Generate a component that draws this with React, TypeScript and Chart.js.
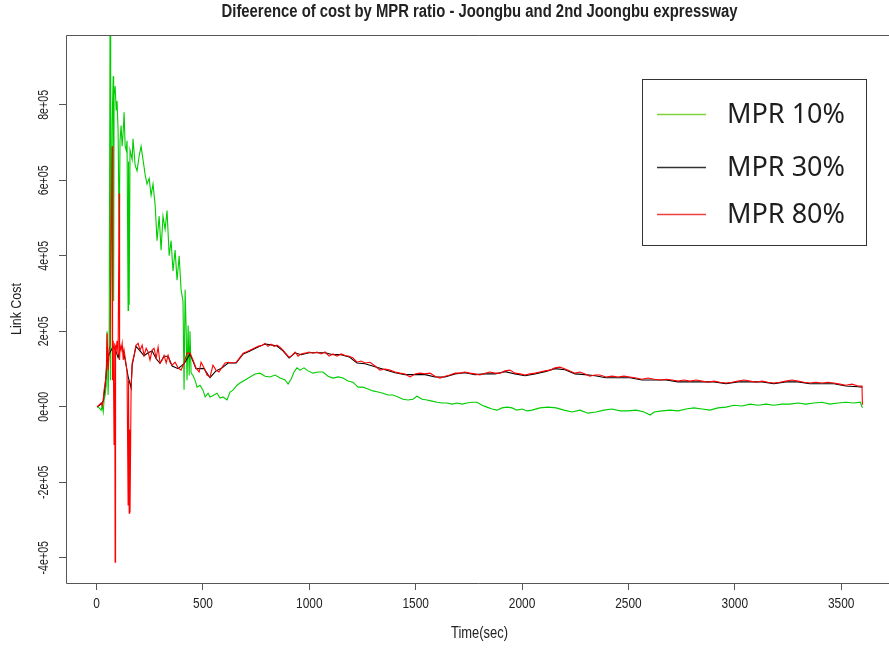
import React, { useEffect, useRef } from "react";
import { Chart, registerables } from "chart.js";

Chart.register(...registerables);

const chartTitle = "Difeerence of cost by MPR ratio - Joongbu and 2nd Joongbu expressway";
const xAxisTitle = "Time(sec)";
const yAxisTitle = "Link Cost";
const seriesNames = ["MPR 10%", "MPR 30%", "MPR 80%"];

const xTicks = [0, 500, 1000, 1500, 2000, 2500, 3000, 3500];
const yTicks = [-400000, -200000, 0, 200000, 400000, 600000, 800000];
const yTickLabels = ["-4e+05", "-2e+05", "0e+00", "2e+05", "4e+05", "6e+05", "8e+05"];

// MPR 10% (green)
const greenTime = [2, 12, 21, 26, 31, 35, 40, 45, 49, 54, 59, 63, 66, 68, 73, 78, 80, 82, 87, 92, 96, 101, 106, 110, 115, 120, 125, 129, 134, 139, 143, 148, 150, 153, 157, 167, 171, 181, 190, 200, 209, 218, 228, 237, 247, 256, 265, 275, 284, 294, 303, 312, 322, 331, 341, 350, 359, 369, 378, 388, 397, 406, 411, 416, 421, 425, 430, 435, 439, 444, 453, 463, 472, 486, 500, 510, 524, 533, 547, 566, 580, 594, 613, 627, 641, 660, 674, 698, 721, 745, 768, 792, 815, 839, 862, 886, 900, 914, 928, 942, 956, 975, 994, 1017, 1041, 1064, 1088, 1111, 1135, 1158, 1182, 1205, 1229, 1252, 1276, 1299, 1323, 1346, 1370, 1393, 1417, 1440, 1464, 1487, 1506, 1530, 1553, 1577, 1600, 1624, 1647, 1671, 1694, 1718, 1741, 1765, 1788, 1812, 1835, 1859, 1882, 1906, 1929, 1953, 1976, 2000, 2023, 2047, 2084, 2122, 2160, 2197, 2235, 2272, 2310, 2348, 2385, 2423, 2461, 2498, 2536, 2573, 2602, 2621, 2658, 2696, 2733, 2771, 2808, 2846, 2884, 2921, 2959, 2996, 3034, 3072, 3109, 3147, 3184, 3222, 3259, 3297, 3335, 3372, 3410, 3447, 3485, 3522, 3560, 3590, 3600];
const greenCost = [0, -3000, -9000, 2000, -14000, 18000, 31000, 57000, 200000, 31000, 175000, 1000000, 70000, 415000, 760000, 876000, 280000, 825000, 850000, 785000, 810000, 730000, 440000, 705000, 745000, 690000, 730000, 780000, 690000, 680000, 705000, 255000, 650000, 270000, 680000, 655000, 710000, 640000, 625000, 665000, 690000, 655000, 615000, 590000, 605000, 560000, 590000, 535000, 440000, 505000, 415000, 505000, 470000, 520000, 400000, 440000, 360000, 415000, 335000, 400000, 310000, 280000, 45000, 310000, 200000, 70000, 215000, 83000, 200000, 90000, 83000, 70000, 52000, 57000, 44000, 26000, 36000, 26000, 30000, 36000, 23000, 26000, 18000, 39000, 44000, 57000, 63000, 71000, 79000, 87000, 89000, 81000, 79000, 84000, 76000, 71000, 60000, 73000, 92000, 103000, 97000, 103000, 95000, 89000, 92000, 92000, 81000, 76000, 79000, 76000, 68000, 65000, 52000, 52000, 47000, 42000, 39000, 36000, 31000, 31000, 26000, 20000, 18000, 20000, 28000, 20000, 18000, 15000, 12000, 10000, 10000, 7000, 10000, 7000, 10000, 12000, 12000, 4000, -1000, -6000, -9000, -3000, -1000, -3000, -9000, -6000, -11000, -9000, -3000, -1000, -3000, -9000, -14000, -9000, -17000, -14000, -9000, -6000, -11000, -11000, -9000, -14000, -22000, -14000, -11000, -9000, -11000, -6000, -3000, -6000, -9000, -3000, -1000, 4000, 2000, 7000, 4000, 7000, 4000, 7000, 7000, 10000, 7000, 10000, 12000, 7000, 10000, 12000, 10000, 12000, -3000];

// MPR 30% (black)
const blackTime = [2, 12, 21, 31, 40, 49, 59, 68, 78, 89, 101, 110, 120, 134, 148, 162, 167, 185, 204, 223, 242, 261, 280, 298, 317, 336, 355, 383, 411, 439, 467, 505, 533, 561, 590, 618, 656, 689, 721, 759, 792, 820, 848, 876, 905, 933, 961, 999, 1036, 1074, 1111, 1149, 1187, 1224, 1262, 1309, 1356, 1403, 1450, 1497, 1544, 1591, 1638, 1685, 1731, 1779, 1826, 1873, 1920, 1967, 2014, 2061, 2108, 2155, 2202, 2249, 2296, 2343, 2394, 2451, 2507, 2564, 2621, 2677, 2733, 2790, 2846, 2902, 2959, 3015, 3072, 3128, 3184, 3240, 3297, 3353, 3410, 3466, 3522, 3579, 3600];
const blackCost = [0, 3000, 8000, 15000, 55000, 120000, 140000, 150000, 160000, 150000, 130000, 155000, 160000, 125000, 80000, 50000, 110000, 160000, 148000, 135000, 143000, 148000, 127000, 115000, 134000, 134000, 108000, 101000, 114000, 140000, 101000, 101000, 77000, 95000, 103000, 116000, 116000, 140000, 148000, 158000, 166000, 164000, 161000, 148000, 129000, 143000, 138000, 143000, 143000, 143000, 138000, 138000, 132000, 116000, 114000, 106000, 98000, 90000, 85000, 85000, 85000, 79000, 79000, 87000, 90000, 85000, 87000, 87000, 93000, 87000, 82000, 87000, 93000, 101000, 98000, 87000, 85000, 82000, 77000, 77000, 77000, 71000, 71000, 71000, 66000, 66000, 66000, 66000, 61000, 66000, 66000, 66000, 61000, 66000, 66000, 61000, 61000, 61000, 55000, 53000, 52000];

// MPR 80% (red)
const redTime = [2, 12, 21, 26, 31, 35, 40, 45, 49, 54, 59, 63, 68, 73, 75, 78, 82, 85, 87, 89, 92, 96, 101, 106, 108, 110, 115, 120, 125, 129, 134, 139, 143, 148, 150, 153, 155, 157, 162, 167, 176, 185, 195, 204, 214, 223, 233, 242, 251, 261, 270, 280, 289, 298, 308, 317, 327, 336, 345, 355, 369, 383, 397, 411, 425, 439, 453, 467, 482, 491, 505, 519, 533, 547, 561, 575, 590, 604, 618, 637, 656, 674, 689, 703, 721, 740, 759, 778, 792, 806, 820, 834, 848, 862, 876, 891, 905, 919, 933, 947, 961, 980, 999, 1017, 1036, 1055, 1074, 1093, 1111, 1130, 1149, 1168, 1187, 1205, 1224, 1243, 1262, 1285, 1309, 1332, 1356, 1379, 1403, 1426, 1450, 1473, 1497, 1520, 1544, 1567, 1591, 1614, 1638, 1661, 1685, 1708, 1731, 1755, 1779, 1802, 1826, 1849, 1873, 1896, 1920, 1943, 1967, 1990, 2014, 2037, 2061, 2084, 2108, 2131, 2155, 2178, 2202, 2225, 2249, 2272, 2296, 2319, 2343, 2366, 2394, 2423, 2451, 2479, 2507, 2536, 2564, 2592, 2621, 2649, 2677, 2705, 2733, 2761, 2790, 2818, 2846, 2874, 2902, 2930, 2959, 2987, 3015, 3043, 3072, 3099, 3128, 3156, 3184, 3212, 3240, 3269, 3297, 3325, 3353, 3381, 3410, 3438, 3466, 3494, 3522, 3551, 3579, 3598, 3600];
const redCost = [0, 5000, 10000, 2000, 18000, 44000, 63000, 84000, 195000, 97000, 150000, 163000, 460000, 690000, 70000, 175000, -100000, 168000, -412000, 163000, 150000, 175000, 136000, 565000, 124000, 163000, 150000, 168000, 124000, 150000, 131000, 110000, 92000, -260000, 70000, -282000, -60000, -280000, 44000, 116000, 136000, 163000, 168000, 150000, 163000, 136000, 155000, 145000, 124000, 150000, 155000, 129000, 158000, 116000, 124000, 136000, 116000, 136000, 118000, 110000, 118000, 103000, 97000, 116000, 142000, 142000, 124000, 103000, 92000, 118000, 103000, 84000, 79000, 110000, 97000, 92000, 105000, 116000, 118000, 116000, 118000, 131000, 142000, 145000, 150000, 155000, 160000, 163000, 168000, 160000, 166000, 160000, 163000, 158000, 150000, 140000, 131000, 136000, 145000, 134000, 140000, 142000, 145000, 142000, 145000, 140000, 145000, 134000, 140000, 134000, 140000, 136000, 134000, 129000, 118000, 121000, 116000, 118000, 108000, 97000, 100000, 97000, 92000, 89000, 87000, 79000, 87000, 89000, 87000, 89000, 81000, 76000, 81000, 84000, 89000, 89000, 92000, 89000, 87000, 84000, 89000, 92000, 89000, 89000, 95000, 97000, 89000, 87000, 84000, 87000, 89000, 92000, 95000, 97000, 103000, 105000, 100000, 95000, 89000, 92000, 87000, 81000, 84000, 84000, 79000, 81000, 79000, 81000, 79000, 76000, 73000, 76000, 73000, 71000, 73000, 71000, 68000, 71000, 68000, 71000, 68000, 65000, 68000, 65000, 63000, 65000, 68000, 71000, 68000, 65000, 68000, 65000, 63000, 65000, 68000, 71000, 68000, 65000, 63000, 65000, 63000, 65000, 63000, 60000, 57000, 60000, 55000, 55000, 5000];

const xMin = -144;
const xMax = 3725;
const yMin = -467000;
const yMax = 985000;

const SANS = "'Liberation Sans', Arial, sans-serif";
const AXIS_COLOR = "#555555";
const TEXT_COLOR = "#222222";

function toPoints(xs: number[], ys: number[]) {
  return xs.map((x, i) => ({ x, y: ys[i] }));
}

// draw text horizontally condensed (the reference uses a narrow face)
function condensedText(
  ctx: CanvasRenderingContext2D,
  text: string,
  x: number,
  y: number,
  font: string,
  squeeze: number,
  rotate = 0
) {
  ctx.save();
  ctx.font = font;
  ctx.translate(x, y);
  if (rotate) ctx.rotate(rotate);
  ctx.scale(squeeze, 1);
  ctx.textAlign = "center";
  ctx.textBaseline = "middle";
  ctx.fillText(text, 0, 0);
  ctx.restore();
}

function squeezeFor(ctx: CanvasRenderingContext2D, text: string, font: string, target: number) {
  ctx.save();
  ctx.font = font;
  const w = ctx.measureText(text).width;
  ctx.restore();
  return w > 0 ? target / w : 1;
}

const rStylePlugin = {
  id: "rStyle",
  afterDraw(chart: any) {
    const { ctx, chartArea, scales } = chart;
    const { left, top, bottom, right } = chartArea;
    ctx.save();
    // plot box (right edge lies outside the picture)
    ctx.strokeStyle = AXIS_COLOR;
    ctx.lineWidth = 1;
    ctx.beginPath();
    ctx.moveTo(right + 5, top + 0.5);
    ctx.lineTo(left + 0.5, top + 0.5);
    ctx.lineTo(left + 0.5, bottom + 0.5);
    ctx.lineTo(right + 5, bottom + 0.5);
    ctx.stroke();
    ctx.fillStyle = TEXT_COLOR;

    // title, centred on the full R plot region
    const plotRight = scales.x.getPixelForValue(3744);
    const titleFont = `bold 18px ${SANS}`;
    condensedText(ctx, chartTitle, (left + plotRight) / 2, 12, titleFont, squeezeFor(ctx, chartTitle, titleFont, 516));

    // x tick labels
    const xtFont = `15px ${SANS}`;
    const xtSq = squeezeFor(ctx, "1000", xtFont, 26.5);
    xTicks.forEach((v) => {
      condensedText(ctx, String(v), scales.x.getPixelForValue(v), 604, xtFont, xtSq);
    });

    // x title
    const xTitleFont = `16px ${SANS}`;
    condensedText(ctx, xAxisTitle, (left + plotRight) / 2, 634, xTitleFont, squeezeFor(ctx, xAxisTitle, xTitleFont, 57));

    // y title (rotated)
    const yTitleFont = `14px ${SANS}`;
    condensedText(ctx, yAxisTitle, 17, (top + bottom) / 2, yTitleFont, squeezeFor(ctx, yAxisTitle, yTitleFont, 52), -Math.PI / 2);

    // rotated y tick labels
    const ytFont = `14px ${SANS}`;
    const ytSq = squeezeFor(ctx, "8e+05", ytFont, 30);
    yTicks.forEach((v, i) => {
      condensedText(ctx, yTickLabels[i], 44, scales.y.getPixelForValue(v), ytFont, ytSq, -Math.PI / 2);
    });

    // legend box
    const lx = 642, ly = 79, lw = 224, lh = 166;
    ctx.fillStyle = "#ffffff";
    ctx.fillRect(lx, ly, lw, lh);
    ctx.strokeStyle = "#333333";
    ctx.lineWidth = 1;
    ctx.strokeRect(lx + 0.5, ly + 0.5, lw, lh);
    const legendColors = ["#7fd23a", "#333333", "#ee4040"];
    const rows = [114, 167, 214];
    ctx.font = "27px 'Noto Sans', 'Open Sans', sans-serif";
    ctx.textAlign = "left";
    ctx.textBaseline = "middle";
    seriesNames.forEach((name, i) => {
      ctx.strokeStyle = legendColors[i];
      ctx.lineWidth = 1.5;
      ctx.beginPath();
      ctx.moveTo(657, rows[i] + 0.5);
      ctx.lineTo(706, rows[i] + 0.5);
      ctx.stroke();
      ctx.fillStyle = "#1e1e1e";
      ctx.fillText(name, 727, rows[i] + 1);
    });
    ctx.restore();
  },
};

export default function App() {
  const canvasRef = useRef<HTMLCanvasElement | null>(null);

  useEffect(() => {
    document.body.style.margin = "0";
    const canvas = canvasRef.current;
    if (!canvas) return;
    const chart = new Chart(canvas, {
      type: "line",
      data: {
        datasets: [
          {
            label: seriesNames[2],
            data: toPoints(redTime, redCost),
            borderColor: "#ff0000",
            borderWidth: 1.1,
            pointRadius: 0,
            tension: 0,
            order: 0,
          },
          {
            label: seriesNames[1],
            data: toPoints(blackTime, blackCost),
            borderColor: "#000000",
            borderWidth: 1.1,
            pointRadius: 0,
            tension: 0,
            order: 1,
          },
          {
            label: seriesNames[0],
            data: toPoints(greenTime, greenCost),
            borderColor: "#00cd00",
            borderWidth: 1.1,
            pointRadius: 0,
            tension: 0,
            order: 2,
          },
        ],
      },
      options: {
        animation: false,
        responsive: false,
        devicePixelRatio: 1,
        parsing: false as any,
        layout: { padding: { top: 35, left: 0, right: 0, bottom: 0 } },
        plugins: {
          legend: { display: false },
          title: { display: false },
          tooltip: { enabled: false },
        },
        scales: {
          x: {
            type: "linear",
            min: xMin,
            max: xMax,
            afterBuildTicks: (scale: any) => {
              scale.ticks = xTicks.map((v) => ({ value: v }));
            },
            afterFit: (scale: any) => {
              scale.height = 66;
            },
            border: { display: false },
            grid: {
              drawOnChartArea: false,
              drawTicks: true,
              tickLength: 7,
              color: AXIS_COLOR,
            },
            ticks: { display: false },
            title: { display: false, text: xAxisTitle },
          },
          y: {
            type: "linear",
            min: yMin,
            max: yMax,
            afterBuildTicks: (scale: any) => {
              scale.ticks = yTicks.map((v) => ({ value: v }));
            },
            afterFit: (scale: any) => {
              scale.width = 66;
            },
            border: { display: false },
            grid: {
              drawOnChartArea: false,
              drawTicks: true,
              tickLength: 7,
              color: AXIS_COLOR,
            },
            ticks: { display: false },
            title: { display: false, text: yAxisTitle },
          },
        },
      },
      plugins: [rStylePlugin],
    } as any);
    return () => chart.destroy();
  }, []);

  return (
    <div style={{ position: "absolute", left: 0, top: 0, width: 889, height: 649, background: "#fff" }}>
      <canvas ref={canvasRef} width={889} height={649} />
    </div>
  );
}
